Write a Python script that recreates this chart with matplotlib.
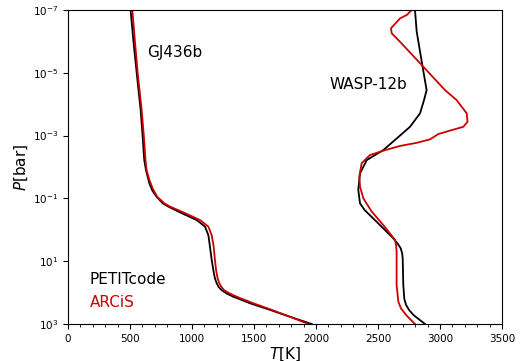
import numpy as np
import matplotlib
matplotlib.use("Agg")
import matplotlib.pyplot as plt
from matplotlib.ticker import MultipleLocator, FixedLocator, NullLocator

# GJ436b
gj_pet_logp = [-7.0, -6.0, -5.0, -4.4, -3.82, -2.97, -2.22, -1.90, -1.48, -1.25, -1.05, -0.84, -0.74, -0.53,
               -0.31, -0.10, 0.17, 0.54, 0.96, 1.28, 1.55, 1.70, 1.82, 1.92, 2.03, 2.13, 2.34, 2.55, 2.77, 3.0]
gj_pet_T = [505, 528, 554, 570, 586, 602, 615, 629, 656, 680, 715, 765, 809, 917,
            1038, 1105, 1132, 1145, 1159, 1172, 1185, 1199, 1215, 1239, 1280, 1333, 1468, 1629, 1790, 1965]
gj_arc_logp = [-7.0, -6.0, -5.0, -3.82, -2.97, -2.22, -1.90, -1.59, -1.30, -1.05, -0.84, -0.74, -0.53,
               -0.31, -0.10, 0.17, 0.54, 0.96, 1.28, 1.55, 1.70, 1.82, 1.92, 2.03, 2.13, 2.34, 2.55, 2.77, 3.0]
gj_arc_T = [519, 540, 562, 594, 612, 625, 634, 656, 685, 720, 778, 823, 944,
            1065, 1132, 1159, 1175, 1185, 1194, 1207, 1220, 1238, 1258, 1305, 1360, 1495, 1643, 1790, 1938]

# WASP-12b
wa_pet_logp = [-7.0, -6.31, -5.25, -4.45, -4.13, -3.71, -3.28, -2.91, -2.54, -2.22, -1.80, -1.27,
               -0.84, -0.63, -0.15, 0.27, 0.45, 0.59, 0.75, 0.91, 1.76, 2.20, 2.39, 2.55, 2.71, 2.85, 3.0]
wa_pet_T = [2798, 2812, 2857, 2892, 2871, 2839, 2758, 2651, 2543, 2409, 2355, 2341,
            2355, 2392, 2516, 2623, 2660, 2683, 2695, 2699, 2704, 2712, 2726, 2750, 2785, 2830, 2879]
wa_arc_logp = [-7.0, -6.85, -6.73, -6.42, -6.26, -5.99, -5.25, -4.45, -4.13, -3.71, -3.44, -3.28, -3.16,
               -3.05, -2.88, -2.77, -2.67, -2.54, -2.38, -2.12, -1.69, -1.37, -1.00, -0.58,
               -0.15, 0.32, 0.50, 0.70, 1.76, 2.29, 2.50, 2.71, 2.85, 3.0]
wa_arc_T = [2771, 2735, 2677, 2605, 2610, 2677, 2852, 3040, 3134, 3215, 3222, 3188, 3081,
            2987, 2919, 2812, 2677, 2560, 2435, 2368, 2349, 2355, 2382, 2449,
            2543, 2637, 2646, 2650, 2650, 2664, 2685, 2726, 2760, 2798]

planet_labels = ["GJ436b", "WASP-12b"]
legend_labels = ["PETITcode", "ARCiS"]
x_ticks = [0, 500, 1000, 1500, 2000, 2500, 3000, 3500]
y_ticks = [1e-7, 1e-5, 1e-3, 1e-1, 1e1, 1e3]

black = "#000000"
red = "#cc0000"

fig = plt.figure(figsize=(5.29, 3.61), dpi=100)
ax = fig.add_axes([0.1285, 0.1025, 0.8205, 0.8698])

lw = 1.3
ax.plot(gj_pet_T, 10 ** np.array(gj_pet_logp), color=black, lw=lw)
ax.plot(gj_arc_T, 10 ** np.array(gj_arc_logp), color=red, lw=lw)
ax.plot(wa_pet_T, 10 ** np.array(wa_pet_logp), color=black, lw=lw)
ax.plot(wa_arc_T, 10 ** np.array(wa_arc_logp), color=red, lw=lw)

ax.set_yscale("log")
ax.set_ylim(1e3, 1e-7)
ax.set_xlim(0, 3500)
ax.yaxis.set_major_locator(FixedLocator(y_ticks))
ax.yaxis.set_minor_locator(NullLocator())
ax.xaxis.set_major_locator(FixedLocator(x_ticks))
ax.xaxis.set_minor_locator(MultipleLocator(100))
ax.tick_params(axis="both", which="major", labelsize=7.5, length=3.5, width=0.8, direction="out")
ax.tick_params(axis="x", which="minor", length=2, width=0.6, direction="out")

ax.set_xlabel("$T$[K]", fontsize=11, labelpad=1)
ax.set_ylabel("$P$[bar]", fontsize=11, labelpad=2)

ax.text(637, 2.3e-6, planet_labels[0], fontsize=11, color=black, va="center", ha="left")
ax.text(2105, 2.3e-5, planet_labels[1], fontsize=11, color=black, va="center", ha="left")
ax.text(177, 37, legend_labels[0], fontsize=11, color=black, va="center", ha="left")
ax.text(177, 214, legend_labels[1], fontsize=11, color=red, va="center", ha="left")

for s in ax.spines.values():
    s.set_linewidth(0.8)

fig.savefig("out.png", dpi=100)
